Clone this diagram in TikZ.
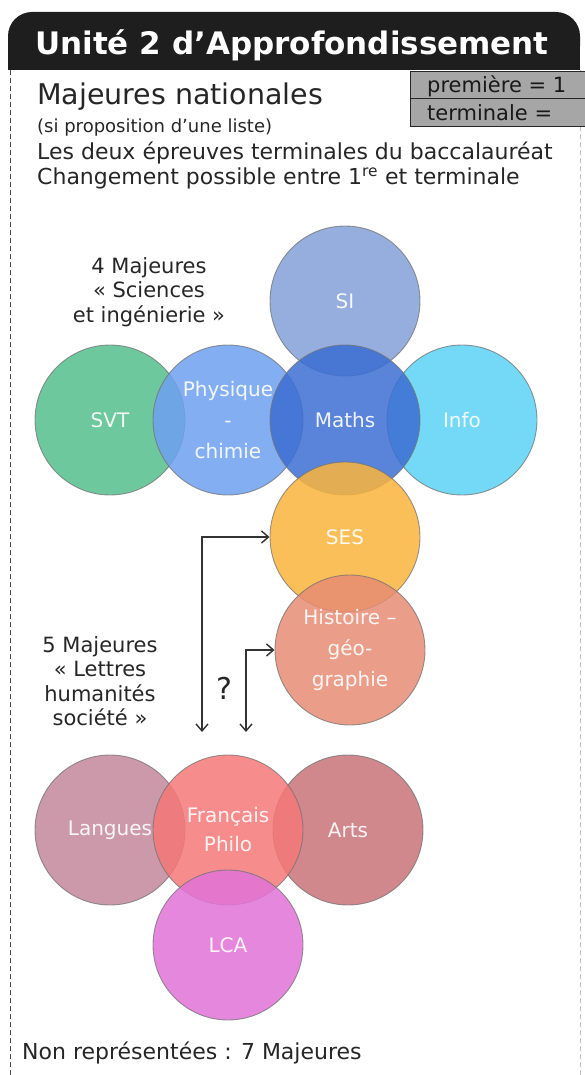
\documentclass[tikz,border=0pt]{standalone}
\usepackage{fontspec}
\setmainfont{DejaVu Sans}
\usetikzlibrary{arrows.meta}
\definecolor{hdr}{HTML}{1E1E1E}
\definecolor{cSVT}{HTML}{55BE8C}
\definecolor{cPhy}{HTML}{6EA0F0}
\definecolor{cMath}{HTML}{3C6ED2}
\definecolor{cSI}{HTML}{82A0D7}
\definecolor{cInfo}{HTML}{5AD2F5}
\definecolor{cSES}{HTML}{FAB43C}
\definecolor{cHG}{HTML}{E68C73}
\definecolor{cLang}{HTML}{C3879B}
\definecolor{cFr}{HTML}{F57878}
\definecolor{cArts}{HTML}{C87378}
\definecolor{cLCA}{HTML}{E173D7}
\begin{document}
\begin{tikzpicture}[x=1pt,y=-1pt,
  bub/.style={circle, minimum size=150pt, inner sep=0pt, draw=black!55, line width=0.9pt,
    fill opacity=0.85, draw opacity=0.75, text opacity=0.9, text=white,
    font=\fontsize{20}{31}\selectfont, align=center},
  lab/.style={text=black!85, align=center, inner sep=0pt, font=\fontsize{21}{24.5}\selectfont},
  conn/.style={draw=black!80, line width=1.4pt,
    {Straight Barb[length=7pt,width=12pt]}-{Straight Barb[length=7pt,width=12pt]}},
  tabbox/.style={fill=black!35, draw=black!85, line width=1pt},
  tabtext/.style={anchor=west, inner sep=0pt, font=\fontsize{21}{21}\selectfont, text=black!90}
]
\useasboundingbox (0,0) rectangle (584,1075);
% frame
\draw[black!70, dash pattern=on 5pt off 3pt, line width=1pt] (10,70) -- (10,1075);
\draw[black!25, dash pattern=on 5pt off 3pt, line width=0.8pt] (580,70) -- (580,1075);
% header
\fill[hdr, rounded corners=24pt] (8,12) rectangle (580,70);
\fill[hdr] (8,45) rectangle (580,70);
\node[text=white, font=\fontsize{31}{31}\selectfont\bfseries, inner sep=0pt] (title) at (292,45) {Unité 2 d’Approfondissement};
% tabs
\draw[tabbox] (410,72) rectangle (600,99);
\draw[tabbox] (410,99) rectangle (600,127);
\node[tabtext] (prem) at (427,86) {première = 1};
\node[tabtext] (term) at (427,113) {terminale =};
% intro text
\node[anchor=west, inner sep=0pt, font=\fontsize{28.5}{28.5}\selectfont, text=black!85] (maj) at (37,97) {Majeures nationales};
\node[anchor=west, inner sep=0pt, font=\fontsize{18}{18}\selectfont, text=black!85] (si) at (37,128) {(si proposition d’une liste)};
\node[anchor=west, inner sep=0pt, font=\fontsize{22}{22}\selectfont, text=black!85] (deux) at (37,153) {Les deux épreuves terminales du baccalauréat};
\node[anchor=west, inner sep=0pt, font=\fontsize{22}{22}\selectfont, text=black!85] (chg) at (37,178) {Changement possible entre 1\textsuperscript{re} et terminale};
% science circles
\node[bub, fill=cSI] (si-c) at (345,301) {SI};
\node[bub, fill=cSVT] (svt) at (110,420) {SVT};
\node[bub, fill=cPhy] (phy) at (228,420) {Physique\\-\\chimie};
\node[bub, fill=cInfo] (info) at (462,420) {Info};
\node[bub, fill=cMath] (maths) at (345,420) {Maths};
\node[bub, fill=cSES] (ses) at (345,537) {SES};
\node[bub, fill=cHG] (hg) at (350,650) {Histoire –\\géo-\\graphie};
% lettres circles
\node[bub, fill=cLang] (lang) at (110,830) {Langues};
\node[bub, fill=cArts] (arts) at (348,830) {Arts};
\node[bub, fill=cFr, font=\fontsize{20}{29}\selectfont] (fr) at (228,830) {Français\\Philo};
\node[bub, fill=cLCA] (lca) at (228,945) {LCA};
% labels
\node[lab] (sci) at (149,292) {4 Majeures\\« Sciences\\et ingénierie »};
\node[lab] (lhs) at (100,681) {5 Majeures\\« Lettres\\humanités\\société »};
\node[inner sep=0pt, font=\fontsize{30}{30}\selectfont, text=black!85] (q) at (224,688) {?};
% arrows
\coordinate (a1) at (202,732);
\coordinate (a2) at (246,732);
\draw[conn] (a1) |- (ses.west);
\draw[conn] (a2) |- (hg.west);
% bottom
\node[anchor=west, inner sep=0pt, font=\fontsize{22}{22}\selectfont, text=black!85] (non) at (22,1053) {Non représentées : 7 Majeures};
\end{tikzpicture}
\end{document}
